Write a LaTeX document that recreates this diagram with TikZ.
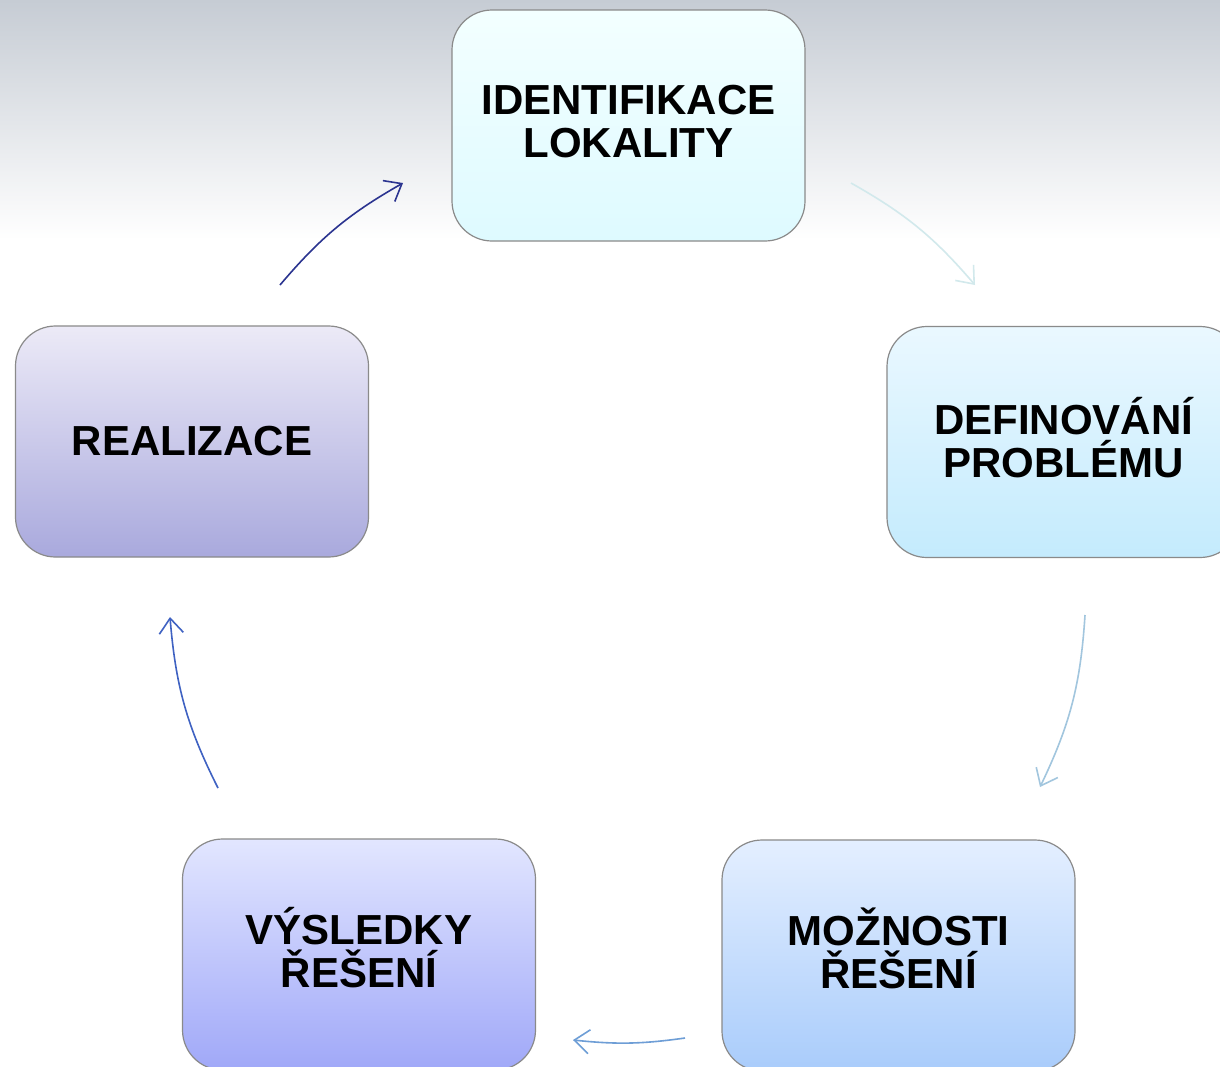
\documentclass[tikz,border=0pt]{standalone}
\usepackage{fontspec}
\setmainfont{Liberation Sans}
\usetikzlibrary{arrows.meta}
\definecolor{bgtop}{HTML}{C6CCD4}
\definecolor{boxline}{HTML}{8A8A8A}
\definecolor{identT}{HTML}{F3FFFF}
\definecolor{identB}{HTML}{DEFAFF}
\definecolor{definT}{HTML}{EAF8FF}
\definecolor{definB}{HTML}{C4EBFD}
\definecolor{moznT}{HTML}{E4EFFF}
\definecolor{moznB}{HTML}{A9CCFB}
\definecolor{vyslT}{HTML}{E2E6FF}
\definecolor{vyslB}{HTML}{A0A8F8}
\definecolor{realT}{HTML}{ECEAF7}
\definecolor{realB}{HTML}{A9A9DD}
\definecolor{arrA}{HTML}{D2E9EC}
\definecolor{arrB}{HTML}{A2C6DE}
\definecolor{arrC}{HTML}{6E9ED6}
\definecolor{arrD}{HTML}{3F62C2}
\definecolor{arrE}{HTML}{2B3490}
\begin{document}
\begin{tikzpicture}[x=1pt,y=-1pt,
  stage/.style={draw=boxline, line width=1.2pt, rounded corners=40pt,
    minimum width=353pt, minimum height=231pt, inner sep=0pt, align=center,
    font=\fontsize{42pt}{43pt}\selectfont\bfseries},
  twoline/.style={text depth=9pt},
  lowtwoline/.style={text depth=15pt},
  flow/.style={line width=1.6pt,
    -{Straight Barb[length=15pt,width=24pt,line width=1.6pt]}}]
\useasboundingbox (0,0) rectangle (1220,1066);
\clip (0,0) rectangle (1220,1066);
% page background: grey band fading into white
\fill[white] (0,0) rectangle (1220,1066);
\shade[top color=bgtop, bottom color=white] (0,0) rectangle (1220,240);

% the five stages of the cycle
\node[stage, twoline, top color=identT, bottom color=identB] (ident) at (628.5,125.5) {IDENTIFIKACE\\LOKALITY};
\node[stage, twoline, top color=definT, bottom color=definB] (defin) at (1063.5,442) {DEFINOVÁNÍ\\PROBLÉMU};
\node[stage, lowtwoline, top color=moznT, bottom color=moznB] (mozn) at (898.5,955.5) {MOŽNOSTI\\ŘEŠENÍ};
\node[stage, lowtwoline, top color=vyslT, bottom color=vyslB] (vysl) at (359,954.5) {VÝSLEDKY\\ŘEŠENÍ};
\node[stage, top color=realT, bottom color=realB] (real) at (192,441.5) {REALIZACE};

% arrow end points around the cycle
\coordinate (a1s) at (851,183);
\coordinate (a1e) at (975,285);
\coordinate (a2s) at (1085,615);
\coordinate (a2e) at (1040,787);
\coordinate (a3s) at (685,1038);
\coordinate (a3e) at (573,1040);
\coordinate (a4s) at (218,788);
\coordinate (a4e) at (170,617);
\coordinate (a5s) at (280,285);
\coordinate (a5e) at (403,183);

\draw[flow, color=arrA] (a1s) to[bend left=10] (a1e);
\draw[flow, color=arrB] (a2s) to[bend left=11] (a2e);
\draw[flow, color=arrC] (a3s) to[bend left=7] (a3e);
\draw[flow, color=arrD] (a4s) to[bend left=11] (a4e);
\draw[flow, color=arrE] (a5s) to[bend left=10] (a5e);
\end{tikzpicture}
\end{document}
